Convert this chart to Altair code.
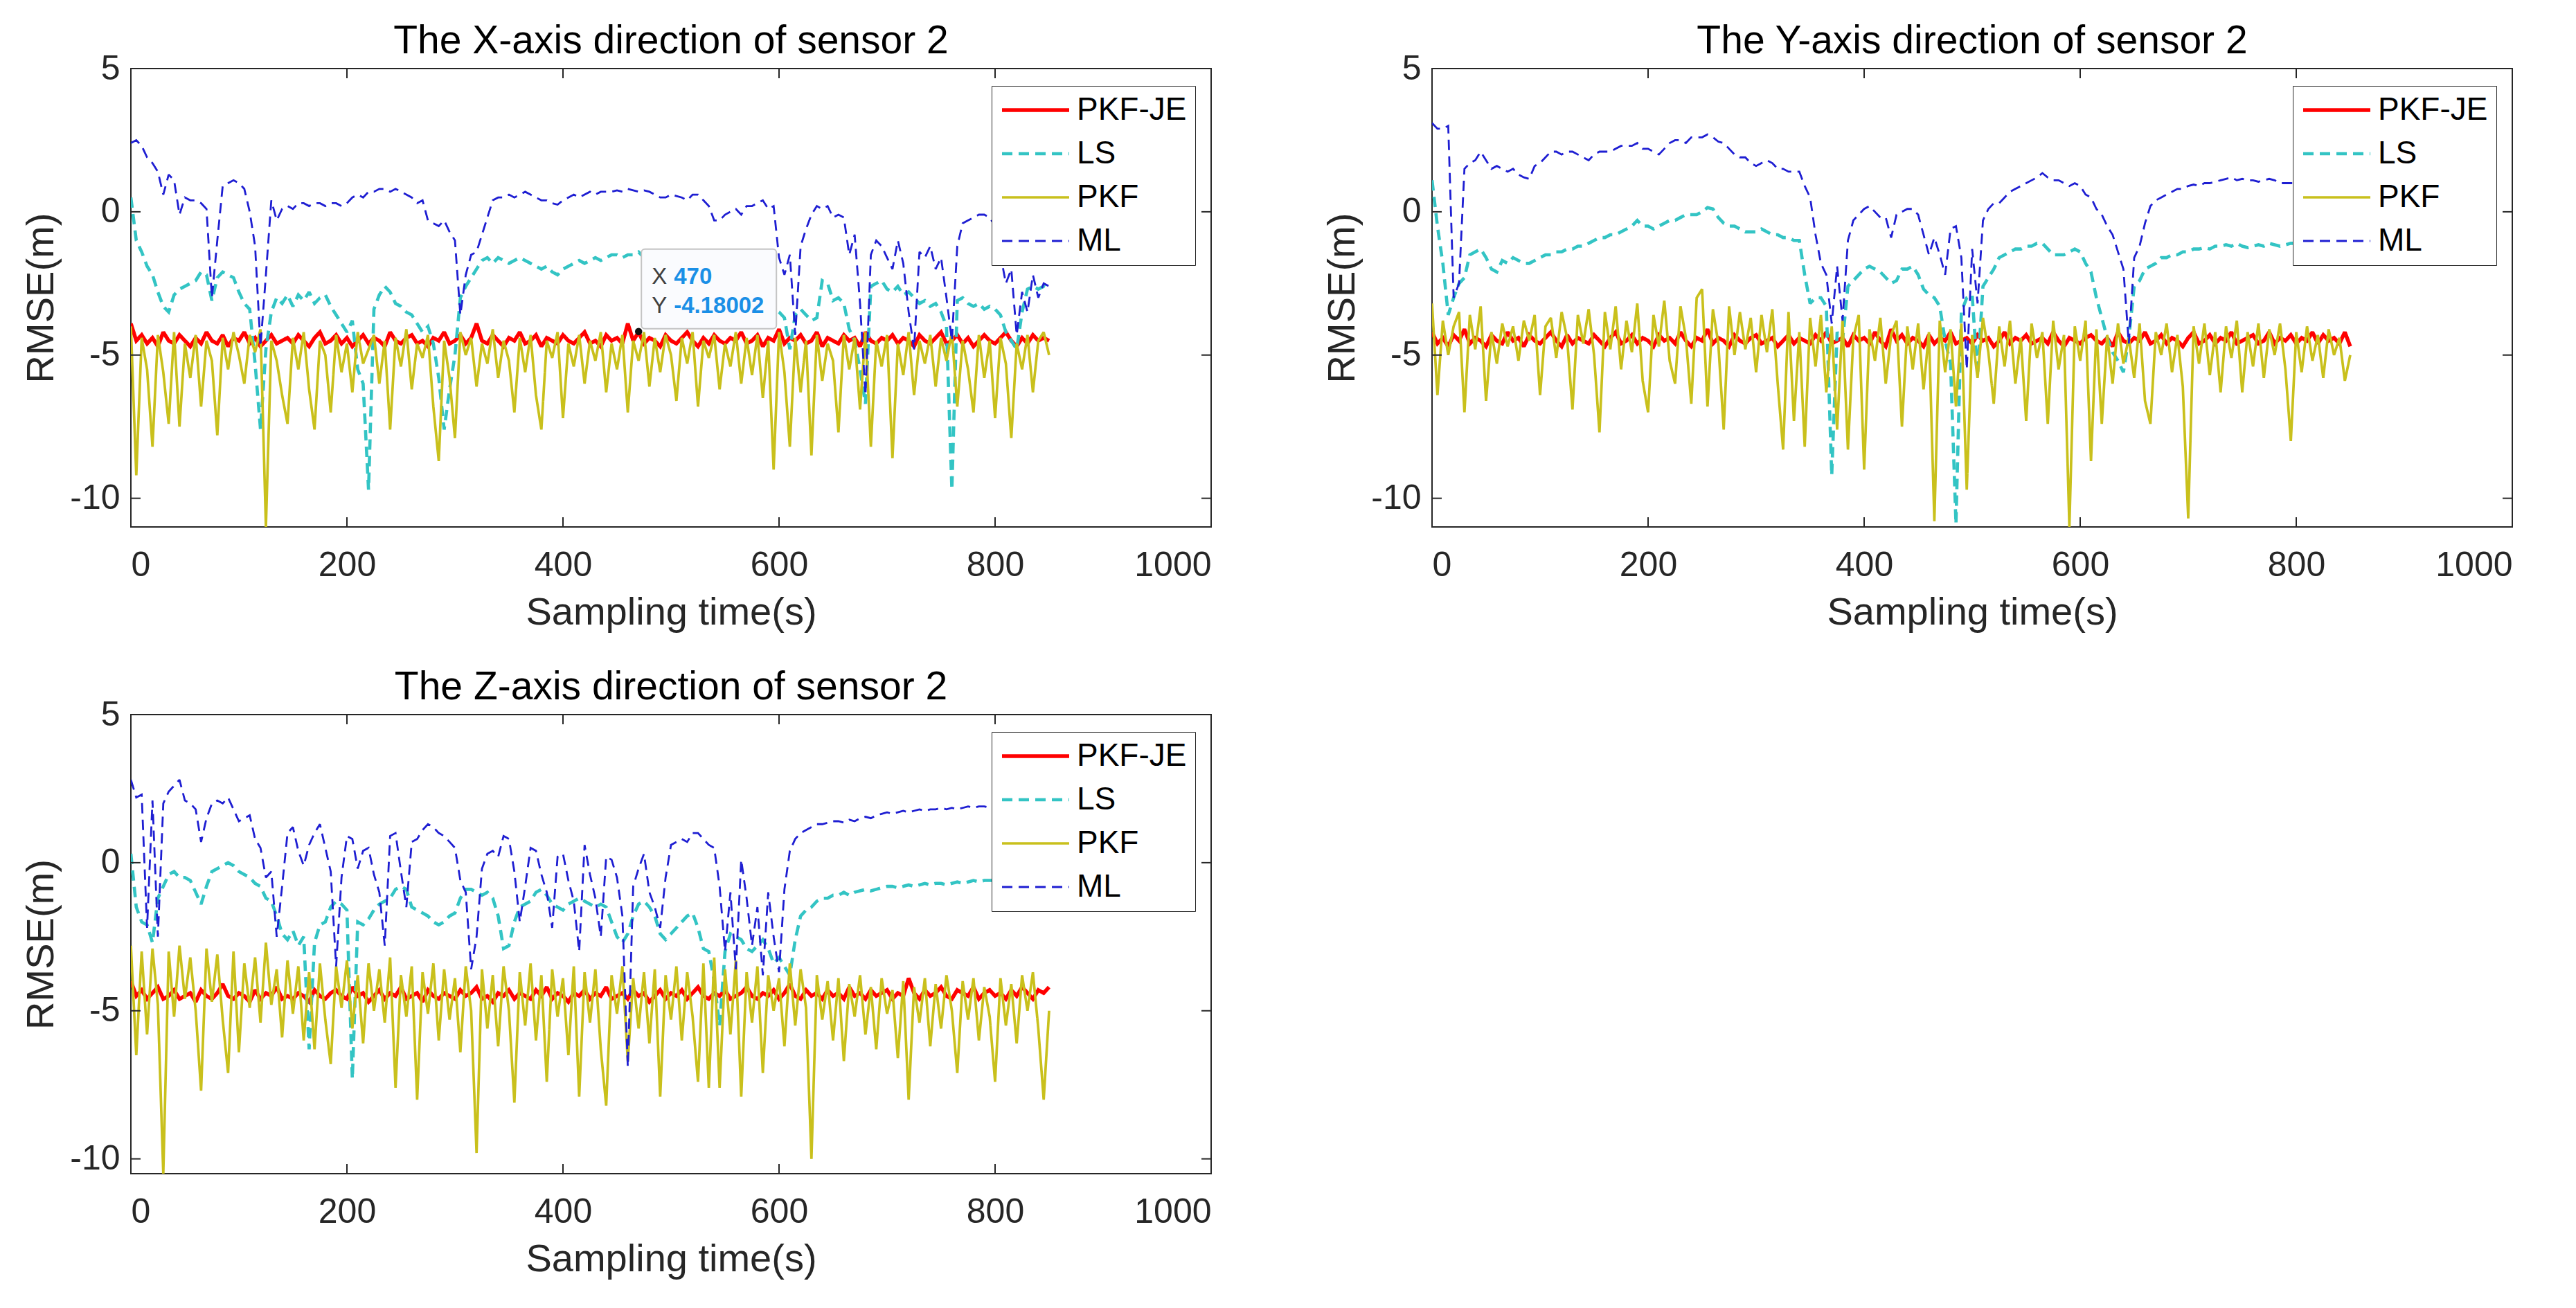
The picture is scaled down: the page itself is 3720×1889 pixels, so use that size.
import altair as alt
import pandas as pd

# ---------------- data (sampled every 5 s, 0..850 s) ----------------
SERIES = ["PKF-JE", "LS", "PKF", "ML"]
COLORS = ["#ff0000", "#33c4c4", "#c9c01c", "#1e1ed2"]
DASHES = [[1, 0], [15, 9], [1, 0], [15, 9]]
WIDTHS = [5.5, 2.8, 2.6, 2.8]
STEP = 5

X_JE = [-3.9, -4.5, -4.3, -4.6, -4.4, -4.7, -4.2, -4.5, -4.6, -4.3,
        -4.5, -4.7, -4.4, -4.6, -4.2, -4.5, -4.6, -4.3, -4.7, -4.4,
        -4.5, -4.2, -4.6, -4.4, -4.7, -4.5, -4.3, -4.6, -4.5, -4.4,
        -4.6, -4.3, -4.5, -4.7, -4.4, -4.2, -4.6, -4.5, -4.3, -4.6,
        -4.4, -4.7, -4.5, -4.3, -4.6, -4.4, -4.5, -4.7, -4.2, -4.5,
        -4.6, -4.4, -4.3, -4.6, -4.5, -4.7, -4.4, -4.5, -4.2, -4.6,
        -4.5, -4.3, -4.6, -4.4, -3.9, -4.5, -4.6, -4.3, -4.5, -4.7,
        -4.4, -4.5, -4.2, -4.6, -4.5, -4.3, -4.7, -4.4, -4.5, -4.6,
        -4.3, -4.5, -4.6, -4.4, -4.2, -4.6, -4.5, -4.7, -4.3, -4.5,
        -4.4, -4.6, -3.9, -4.5, -4.2, -4.6, -4.4, -4.5, -4.7, -4.3,
        -4.5, -4.6, -4.4, -4.2, -4.5, -4.7, -4.4, -4.6, -4.3, -4.5,
        -4.6, -4.4, -4.5, -4.2, -4.6, -4.5, -4.3, -4.7, -4.4, -4.5,
        -4.1, -4.6, -4.4, -4.5, -4.3, -4.6, -4.5, -4.2, -4.7, -4.4,
        -4.5, -4.6, -4.3, -4.5, -4.4, -4.7, -4.2, -4.5, -4.6, -4.4,
        -4.5, -4.3, -4.6, -4.4, -4.5, -4.7, -4.3, -4.5, -4.6, -4.4,
        -4.2, -4.6, -4.5, -4.3, -4.6, -4.4, -4.7, -4.5, -4.3, -4.5,
        -4.6, -4.4, -4.2, -4.5, -4.7, -4.4, -4.6, -4.3, -4.5, -4.4,
        -4.5]
X_LS = [0.5, -1.0, -1.4, -1.9, -2.2, -2.8, -3.3, -3.5, -2.9, -2.7,
        -2.6, -2.5, -2.4, -2.1, -2.2, -3.1, -2.3, -2.1, -2.2, -2.3,
        -2.8, -3.2, -3.4, -5.3, -7.6, -4.8, -3.5, -3.0, -3.2, -2.9,
        -3.3, -2.9, -3.1, -2.8, -3.2, -3.0, -2.9, -3.3, -3.6, -3.9,
        -4.2, -3.8, -5.5, -6.0, -9.7, -3.4, -2.9, -2.6, -2.8, -3.2,
        -3.3, -3.5, -3.6, -3.9, -4.2, -4.0, -4.6, -5.8, -7.6, -6.2,
        -5.0, -3.0, -2.6, -2.3, -2.0, -1.7, -1.6, -1.8, -1.6, -1.7,
        -1.8, -1.7, -1.6, -1.7, -1.8, -1.9, -2.0, -1.9, -2.1, -2.2,
        -2.0, -1.9, -1.8, -1.7, -1.8, -1.7, -1.6, -1.7, -1.6, -1.5,
        -1.5, -1.6, -1.5, -1.5, -1.4, -1.6, -1.7, -2.2, -2.6, -2.8,
        -1.6, -1.5, -1.6, -1.7, -1.8, -1.7, -1.8, -2.0, -2.2, -2.3,
        -2.2, -2.4, -2.5, -2.6, -2.8, -2.9, -3.0, -3.2, -3.3, -3.4,
        -3.5, -3.7, -4.8, -3.6, -3.4, -3.6, -3.8, -3.7, -2.4, -2.5,
        -3.1, -3.0, -3.2, -4.1, -4.5, -5.5, -6.7, -2.6, -2.5, -2.4,
        -2.7, -2.8, -2.6, -2.9, -2.8, -3.0, -3.2, -3.1, -3.3, -3.2,
        -3.5, -4.0, -9.7, -3.1, -3.0, -3.2, -3.3, -3.2, -3.4, -3.3,
        -3.4, -3.6, -4.2, -4.5, -4.8, -3.5, -2.7, -2.6, -2.7, -2.6,
        -2.7]
X_PKF = [-4.0, -9.2, -4.4, -5.5, -8.2, -4.3, -5.6, -7.4, -4.2, -7.5,
         -4.6, -5.8, -4.3, -6.8, -4.5, -5.2, -7.8, -4.4, -5.5, -4.2,
         -5.0, -6.0, -4.3, -4.9, -4.1, -11.0, -4.5, -5.2, -6.4, -7.4,
         -4.4, -5.5, -4.2, -6.2, -7.6, -4.5, -5.0, -7.0, -4.3, -5.6,
         -4.6, -6.3, -4.2, -5.3, -4.8, -4.3, -6.0, -4.5, -7.6, -4.4,
         -5.4, -4.1, -6.2, -4.6, -5.1, -4.3, -6.8, -8.7, -4.5, -5.8,
         -7.9, -4.2, -5.0, -4.4, -6.1, -4.6, -5.3, -4.1, -5.8, -4.5,
         -5.2, -7.0, -4.4, -5.6, -4.3, -6.4, -7.6, -4.5, -5.1, -4.2,
         -7.2, -4.6, -5.4, -4.3, -6.0, -4.5, -5.2, -4.2, -6.3, -4.6,
         -5.5, -4.3, -7.0, -4.5, -5.2, -4.2, -6.1, -4.4, -5.6, -4.3,
         -5.0, -6.6, -4.4, -5.3, -4.2, -6.8, -4.5, -5.1, -4.3, -6.2,
         -4.6, -5.4, -4.2, -6.0, -4.4, -5.7, -4.3, -6.5, -4.5, -9.0,
         -4.2, -5.6, -8.2, -4.4, -6.3, -4.5, -8.5, -4.3, -5.9, -4.6,
         -5.2, -7.7, -4.3, -5.5, -4.4, -6.9, -4.2, -8.2, -4.5, -5.4,
         -4.3, -8.6, -4.6, -5.7, -4.2, -6.4, -4.5, -5.3, -4.3, -6.1,
         -4.4, -5.2, -4.2, -6.8, -4.5, -5.5, -7.0, -4.3, -5.8, -4.5,
         -7.2, -4.4, -5.3, -7.9, -4.6, -5.5, -4.3, -6.3, -4.5, -4.2,
         -5.0]
X_ML = [2.4, 2.5, 2.3, 1.9, 1.7, 1.4, 0.6, 1.3, 1.1, -0.1,
        0.5, 0.4, 0.4, 0.3, 0.1, -3.0, -1.0, 0.9, 1.0, 1.1,
        1.0, 0.8, 0.0, -1.2, -4.7, -2.2, 0.4, -0.3, 0.1, 0.2,
        0.1, 0.3, 0.3, 0.2, 0.3, 0.3, 0.2, 0.3, 0.3, 0.2,
        0.3, 0.5, 0.6, 0.5, 0.7, 0.7, 0.8, 0.8, 0.7, 0.8,
        0.7, 0.6, 0.5, 0.3, 0.4, -0.3, -0.4, -0.5, -0.3, -0.7,
        -1.0, -3.6, -2.2, -1.5, -1.4, -0.8, -0.2, 0.4, 0.5, 0.5,
        0.6, 0.5, 0.6, 0.7, 0.6, 0.5, 0.4, 0.4, 0.3, 0.25,
        0.4, 0.5, 0.6, 0.5, 0.6, 0.7, 0.6, 0.7, 0.7, 0.7,
        0.75, 0.7, 0.8, 0.75, 0.7, 0.75, 0.7, 0.6, 0.5, 0.5,
        0.6, 0.55, 0.5, 0.4, 0.6, 0.6, 0.4, 0.2, -0.3, -0.3,
        -0.1, 0.0, 0.1, -0.1, 0.2, 0.2, 0.3, 0.4, 0.1, 0.2,
        -1.6, -2.2, -1.5, -4.3, -1.2, -0.6, -0.1, 0.2, 0.1, 0.2,
        -0.2, -0.1, -0.2, -1.5, -0.8, -3.2, -6.4, -1.5, -1.0, -1.2,
        -1.6, -2.0, -1.0, -1.8, -3.5, -4.8, -1.4, -1.6, -1.2, -2.0,
        -1.6, -3.0, -4.5, -1.2, -0.4, -0.3, -0.2, -0.1, -0.1, -0.2,
        -0.5, -1.5, -2.5, -2.0, -4.3, -2.8, -3.5, -2.2, -3.0, -2.5,
        -2.6]

Y_JE = [-4.2, -4.6, -4.4, -4.7, -4.3, -4.5, -4.1, -4.6, -4.4, -4.5,
        -4.7, -4.3, -4.5, -4.6, -4.2, -4.5, -4.4, -4.7, -4.3, -4.5,
        -4.6, -4.4, -4.2, -4.5, -4.7, -4.3, -4.6, -4.4, -4.5, -4.6,
        -4.3, -4.5, -4.7, -4.4, -4.2, -4.6, -4.5, -4.3, -4.6, -4.4,
        -4.5, -4.7, -4.3, -4.5, -4.4, -4.6, -4.2, -4.5, -4.7, -4.4,
        -4.5, -4.1, -4.6, -4.4, -4.5, -4.7, -4.3, -4.5, -4.6, -4.4,
        -4.3, -4.6, -4.5, -4.4, -4.7, -4.5, -4.3, -4.6, -4.4, -4.5,
        -4.6, -4.3, -4.5, -4.2, -4.6, -4.5, -4.4, -4.7, -4.3, -4.5,
        -4.4, -4.6, -4.2, -4.5, -4.7, -4.1, -4.5, -4.3, -4.6, -4.4,
        -4.5, -4.7, -4.3, -4.6, -4.4, -4.5, -4.2, -4.6, -4.5, -4.4,
        -4.6, -4.3, -4.5, -4.4, -4.7, -4.5, -4.2, -4.6, -4.4, -4.5,
        -4.3, -4.6, -4.5, -4.4, -4.6, -4.2, -4.5, -4.7, -4.4, -4.5,
        -4.6, -4.4, -4.3, -4.5, -4.6, -4.4, -4.7, -4.2, -4.5, -4.6,
        -4.4, -4.5, -4.2, -4.6, -4.5, -4.3, -4.6, -4.4, -4.5, -4.7,
        -4.4, -4.2, -4.6, -4.5, -4.3, -4.6, -4.4, -4.5, -4.2, -4.6,
        -4.5, -4.4, -4.3, -4.6, -4.5, -4.2, -4.6, -4.4, -4.5, -4.3,
        -4.6, -4.4, -4.5, -4.2, -4.6, -4.3, -4.5, -4.4, -4.6, -4.2,
        -4.7]
Y_LS = [1.1, -0.5, -1.8, -3.6, -3.0, -2.5, -2.3, -1.5, -1.4, -1.3,
        -1.6, -2.0, -2.1, -1.7, -1.8, -1.6, -1.7, -1.8, -1.8, -1.7,
        -1.6, -1.5, -1.5, -1.4, -1.4, -1.3, -1.3, -1.2, -1.2, -1.1,
        -1.0, -0.9, -0.9, -0.8, -0.8, -0.7, -0.6, -0.5, -0.3, -0.5,
        -0.5, -0.6, -0.5, -0.4, -0.3, -0.3, -0.2, -0.1, -0.1, -0.1,
        0.0, 0.15, 0.1, -0.2, -0.4, -0.5, -0.5, -0.6, -0.7, -0.7,
        -0.7, -0.6, -0.7, -0.8, -0.8, -0.9, -0.9, -1.0, -1.0, -2.2,
        -3.2, -3.0, -3.0, -3.3, -9.2, -4.2, -4.5, -2.6, -2.4, -2.2,
        -2.0, -1.9, -2.0, -2.1, -2.3, -2.5, -2.4, -2.0, -2.0, -1.9,
        -2.2, -2.7, -2.9, -3.0, -3.3, -4.5, -5.3, -10.9, -3.5, -3.0,
        -2.9, -5.7, -2.6, -2.3, -2.0, -1.6, -1.5, -1.4, -1.3, -1.3,
        -1.2, -1.2, -1.1, -1.1, -1.3, -1.5, -1.5, -1.5, -1.4, -1.3,
        -1.4, -1.8, -2.1, -3.0, -3.7, -4.4, -4.9, -5.2, -5.6, -4.4,
        -2.6, -2.4, -2.0, -1.9, -1.8, -1.6, -1.6, -1.5, -1.5, -1.4,
        -1.4, -1.3, -1.3, -1.25, -1.3, -1.2, -1.2, -1.15, -1.2, -1.1,
        -1.2, -1.25, -1.2, -1.15, -1.2, -1.1, -1.15, -1.2, -1.15, -1.1,
        -1.1, -1.1, -1.05, -1.1, -1.1, -1.05, -1.0, -1.05, -1.0, -1.0,
        -1.0]
Y_PKF = [-3.2, -6.4, -3.8, -5.0, -4.0, -3.5, -7.0, -3.6, -4.8, -3.3,
         -6.6, -4.2, -5.3, -3.9, -4.7, -4.0, -5.2, -3.8, -4.5, -3.6,
         -6.4, -4.0, -3.7, -5.1, -3.5, -4.4, -6.9, -3.6, -4.6, -3.4,
         -5.0, -7.7, -3.5, -4.8, -3.3, -5.5, -3.8, -4.9, -3.2, -5.9,
         -7.0, -3.6, -4.7, -3.1, -5.2, -6.0, -3.3, -4.4, -6.7, -3.0,
         -2.7, -6.8, -3.4, -4.6, -7.6, -3.3, -5.0, -3.5, -4.8, -3.7,
         -5.6, -3.6, -4.9, -3.4, -6.0, -8.3, -3.5, -7.3, -4.2, -8.2,
         -3.7, -5.4, -3.6, -6.3, -4.0, -7.6, -3.8, -8.3, -4.4, -3.6,
         -9.0, -4.1, -5.2, -3.7, -6.0, -4.3, -3.8, -7.5, -4.0, -5.5,
         -3.9, -6.2, -4.2, -10.8, -3.8, -5.6, -4.1, -6.8, -3.9, -9.7,
         -4.3, -5.8, -3.7, -4.9, -6.7, -4.0, -5.4, -3.8, -6.0, -4.4,
         -7.3, -3.9, -5.1, -4.2, -7.4, -3.8, -5.5, -4.3, -11.0, -4.0,
         -5.2, -3.8, -8.7, -4.1, -7.4, -4.3, -6.0, -3.9, -5.3, -4.4,
         -5.8, -3.9, -6.6, -7.4, -4.2, -5.0, -3.9, -5.6, -4.3, -6.1,
         -10.7, -4.0, -5.3, -3.9, -5.7, -4.2, -6.3, -4.0, -5.1, -3.8,
         -6.3, -4.2, -5.4, -3.9, -5.8, -4.1, -5.0, -3.9, -5.5, -8.0,
         -4.2, -5.6, -4.0, -5.2, -4.3, -5.8, -4.1, -5.0, -4.4, -5.9,
         -5.0]
Y_ML = [3.1, 2.9, 2.9, 3.0, -3.0, -2.5, 1.5, 1.7, 1.8, 2.1,
        1.8, 1.5, 1.6, 1.5, 1.4, 1.5, 1.3, 1.2, 1.15, 1.6,
        1.7, 1.9, 2.1, 2.1, 2.0, 2.1, 2.1, 2.0, 1.9, 1.8,
        2.0, 2.1, 2.1, 2.1, 2.2, 2.3, 2.3, 2.3, 2.4, 2.2,
        2.2, 2.1, 2.0, 2.2, 2.4, 2.5, 2.5, 2.4, 2.6, 2.6,
        2.6, 2.7, 2.6, 2.45, 2.4, 2.2, 2.0, 1.9, 1.9, 1.7,
        1.6, 1.7, 1.8, 1.7, 1.5, 1.5, 1.4, 1.4, 1.4, 0.9,
        0.5, -0.8, -1.8, -2.2, -3.9, -1.9, -3.8, -1.0, -0.3, -0.1,
        0.1, 0.2, 0.0, -0.2, -0.2, -0.9, -0.1, 0.0, 0.1, 0.1,
        -0.1, -0.8, -1.5, -0.9, -1.5, -2.2, -0.6, -0.5, -1.6, -5.5,
        -1.3, -3.2, -0.3, 0.1, 0.3, 0.3, 0.5, 0.7, 0.8, 0.9,
        1.0, 1.1, 1.2, 1.35, 1.2, 1.1, 1.1, 1.0, 0.9, 1.0,
        0.9, 0.6, 0.5, 0.1, -0.1, -0.5, -0.8, -1.4, -2.0, -4.6,
        -1.6, -1.2, -0.4, 0.2, 0.4, 0.5, 0.6, 0.7, 0.8, 0.8,
        0.9, 0.95, 0.9, 1.0, 1.0, 1.05, 1.1, 1.15, 1.2, 1.1,
        1.15, 1.1, 1.1, 1.05, 1.1, 1.15, 1.1, 1.0, 1.0, 1.0,
        1.0, 1.05, 1.1, 1.1, 1.0, 1.05, 1.1, 1.1, 1.05, 1.1,
        1.1]

Z_JE = [-4.0, -4.5, -4.3, -4.6, -4.4, -4.2, -4.6, -4.5, -4.3, -4.6,
        -4.5, -4.4, -4.7, -4.3, -4.5, -4.6, -4.4, -4.1, -4.5, -4.6,
        -4.4, -4.5, -4.7, -4.3, -4.6, -4.4, -4.5, -4.2, -4.6, -4.5,
        -4.6, -4.4, -4.5, -4.7, -4.3, -4.5, -4.6, -4.4, -4.3, -4.5,
        -4.6, -4.2, -4.5, -4.4, -4.7, -4.5, -4.3, -4.6, -4.4, -4.5,
        -4.2, -4.6, -4.5, -4.4, -4.7, -4.3, -4.5, -4.6, -4.4, -4.5,
        -4.6, -4.3, -4.5, -4.4, -4.2, -4.6, -4.5, -4.7, -4.4, -4.5,
        -4.3, -4.6, -4.4, -4.5, -4.6, -4.3, -4.5, -4.2, -4.6, -4.4,
        -4.5, -4.7, -4.4, -4.5, -4.3, -4.6, -4.4, -4.5, -4.2, -4.6,
        -4.5, -4.4, -4.6, -4.3, -4.5, -4.4, -4.7, -4.5, -4.3, -4.6,
        -4.4, -4.5, -4.3, -4.6, -4.4, -4.2, -4.5, -4.6, -4.4, -4.5,
        -4.3, -4.6, -4.5, -4.4, -4.2, -4.5, -4.6, -4.4, -4.5, -4.3,
        -4.6, -4.4, -4.1, -4.5, -4.6, -4.3, -4.5, -4.4, -4.6, -4.3,
        -4.5, -4.4, -4.6, -4.2, -4.5, -4.4, -4.6, -4.3, -4.5, -4.4,
        -4.3, -4.6, -4.4, -4.5, -3.9, -4.4, -4.6, -4.3, -4.5, -4.4,
        -4.2, -4.5, -4.6, -4.3, -4.4, -4.5, -4.2, -4.6, -4.4, -4.3,
        -4.5, -4.4, -4.6, -4.3, -4.5, -4.2, -4.4, -4.6, -4.3, -4.4,
        -4.2]
Z_LS = [0.3, -1.5, -2.0, -2.1, -2.7, -1.2, -0.8, -0.4, -0.3, -0.5,
        -0.5, -0.6, -1.0, -1.4, -0.8, -0.3, -0.2, -0.1, 0.0, -0.1,
        -0.3, -0.4, -0.5, -0.7, -0.8, -1.2, -1.3, -1.8, -2.4, -2.6,
        -2.3, -2.8, -2.5, -6.3, -2.7, -2.1, -2.0, -1.5, -1.3, -1.4,
        -1.6, -7.3, -2.0, -2.1, -1.9, -1.6, -1.4, -1.3, -1.2, -0.9,
        -0.8, -0.9, -1.5, -1.6, -1.7, -1.8, -2.0, -2.1, -2.0, -1.8,
        -1.7, -1.2, -0.9, -0.9, -1.0, -1.1, -1.0, -1.2, -1.8, -2.9,
        -2.8, -2.0, -1.5, -1.4, -1.3, -1.0, -0.9, -1.1, -1.4, -1.5,
        -1.6, -1.4, -1.3, -1.2, -1.3, -1.4, -1.5, -1.4, -1.5, -2.0,
        -2.5, -2.7, -2.4, -1.8, -1.4, -1.3, -1.5, -1.8, -2.4, -2.6,
        -2.4, -2.2, -2.0, -1.8, -1.7, -2.2, -2.9, -3.0, -4.0, -5.5,
        -3.0, -2.4, -2.5, -2.6, -2.9, -3.0, -2.8, -2.6, -2.9, -3.4,
        -3.2, -3.5, -3.8, -2.6, -1.8, -1.6, -1.5, -1.3, -1.2, -1.2,
        -1.1, -1.1, -1.0, -1.1, -1.0, -0.95, -0.9, -0.95, -0.9, -0.85,
        -0.8, -0.8, -0.85, -0.8, -0.75, -0.8, -0.75, -0.7, -0.75, -0.7,
        -0.7, -0.75, -0.7, -0.65, -0.7, -0.65, -0.6, -0.65, -0.6, -0.6,
        -0.6, -0.55, -0.6, -0.55, -0.55, -0.5, -0.55, -0.5, -0.5, -0.5,
        -0.5]
Z_PKF = [-2.8, -6.5, -3.0, -5.8, -2.9, -4.8, -10.5, -3.0, -5.2, -2.8,
         -4.6, -3.2, -5.0, -7.7, -2.9, -4.7, -3.1, -5.3, -7.1, -3.0,
         -6.4, -3.4, -4.9, -3.2, -5.4, -2.7, -4.8, -3.6, -5.9, -3.3,
         -5.1, -3.5, -6.0, -3.7, -6.3, -3.4, -5.3, -6.8, -3.5, -4.9,
         -3.3, -5.6, -3.8, -6.1, -3.4, -5.0, -3.6, -5.4, -3.2, -7.6,
         -3.8, -5.2, -3.5, -8.0, -3.7, -5.1, -3.4, -6.0, -3.6, -5.3,
         -3.9, -6.4, -3.5, -5.0, -9.8, -3.6, -5.6, -3.8, -6.2, -3.5,
         -5.0, -8.1, -3.7, -5.5, -3.4, -6.0, -3.8, -7.4, -3.6, -5.2,
         -3.9, -6.5, -3.5, -7.9, -3.7, -5.4, -3.6, -6.3, -8.2, -3.8,
         -5.1, -3.5, -6.7, -3.9, -5.6, -3.7, -6.1, -3.6, -7.9, -3.8,
         -5.3, -3.5, -6.0, -3.7, -5.2, -7.4, -3.4, -7.6, -3.2, -7.6,
         -3.6, -5.8, -3.3, -7.9, -3.7, -5.4, -3.5, -7.1, -3.8, -5.0,
         -3.9, -6.2, -3.4, -5.5, -3.6, -4.9, -10.0, -3.8, -5.3, -4.0,
         -6.0, -3.9, -6.7, -4.1, -5.2, -3.8, -5.8, -4.2, -6.3, -3.9,
         -5.1, -4.3, -6.6, -4.0, -8.0, -4.2, -5.4, -3.9, -6.2, -4.1,
         -5.6, -3.8, -5.0, -7.1, -4.0, -5.3, -3.9, -6.0, -4.2, -5.2,
         -7.4, -3.9, -5.5, -4.1, -6.1, -3.8, -5.0, -3.7, -5.6, -8.0,
         -5.0]
Z_ML = [2.8, 2.2, 2.3, -2.2, 2.1, -2.5, 2.0, 2.4, 2.6, 2.8,
        2.1, 2.0, 1.8, 0.7, 1.5, 2.0, 2.1, 2.0, 2.2, 1.8,
        1.4, 1.5, 1.6, 0.8, 0.5, -0.5, -0.3, -2.5, -0.8, 1.0,
        1.2, 0.4, -0.1, 0.6, 1.0, 1.3, 0.5, -0.3, -3.5, -0.5,
        0.9, 0.8, -0.2, 0.4, 0.5, -0.4, -1.0, -2.8, 0.9, 1.0,
        -0.3, -1.5, 0.7, 0.8, 1.1, 1.3, 1.2, 1.0, 0.9, 0.7,
        0.5, -0.6, -1.0, -3.6, -2.5, -0.2, 0.3, 0.4, 0.2, 0.9,
        0.8, -0.3, -2.0, -0.8, 0.5, 0.4, -0.4, -1.0, -2.2, 0.2,
        0.3, -0.6, -1.3, -3.0, 0.6, -0.4, -1.2, -2.5, 0.2, 0.1,
        -0.5, -1.8, -6.9, -0.8, -0.2, 0.3, -1.0, -1.5, -2.2, -0.5,
        0.6, 0.7, 0.8, 0.7, 1.0, 1.0, 0.8, 0.6, 0.5, -0.8,
        -3.0, -1.0, -3.6, 0.1, -1.2, -2.8, -1.5, -3.8, -1.0, -2.5,
        -3.7, -0.9, 0.4, 0.8, 1.0, 1.1, 1.2, 1.3, 1.3, 1.35,
        1.4, 1.4, 1.35, 1.45, 1.4, 1.5, 1.55, 1.5, 1.6, 1.65,
        1.7, 1.65, 1.7, 1.75, 1.7, 1.75, 1.8, 1.75, 1.8, 1.8,
        1.85, 1.8, 1.85, 1.8, 1.85, 1.9, 1.85, 1.9, 1.9, 1.85,
        1.9, 1.9, 1.95, 1.9, 1.95, 1.95, 1.9, 1.95, 2.0, 1.95,
        2.0]

PANELS = [
    ("The X-axis direction of sensor 2", [X_JE, X_LS, X_PKF, X_ML], [-11, 5]),
    ("The Y-axis direction of sensor 2", [Y_JE, Y_LS, Y_PKF, Y_ML], [-11, 5]),
    ("The Z-axis direction of sensor 2", [Z_JE, Z_LS, Z_PKF, Z_ML], [-10.5, 5]),
]
X_TICKS = [0, 200, 400, 600, 800, 1000]
Y_TICKS = [-10, -5, 0, 5]
TIP_X, TIP_Y, TIP_LABEL_Y = 470, -4.18002, "-4.18002"

FONT = "Liberation Sans"
AX = "#262626"
W = 1560


def panel(title, arrays, ydom, height, tip=False):
    rows = []
    for s, arr in zip(SERIES, arrays):
        for i, v in enumerate(arr):
            rows.append({"t": i * STEP, "v": v, "series": s})
    df = pd.DataFrame(rows)

    xenc = alt.X("t:Q", scale=alt.Scale(domain=[0, 1000], nice=False, zero=False),
                 axis=alt.Axis(values=X_TICKS, title="Sampling time(s)", labelPadding=30,
                               titlePadding=16, labelExpr="'' + datum.value"))
    yenc = alt.Y("v:Q", scale=alt.Scale(domain=ydom, nice=False, zero=False),
                 axis=alt.Axis(values=Y_TICKS, title="RMSE(m)", labelPadding=16,
                               titlePadding=12, labelExpr="'' + datum.value"))
    legend = alt.Legend(orient="none", legendX=1243, legendY=25, title=None,
                        symbolType="stroke", symbolSize=9400, clipHeight=46,
                        labelFontSize=46, labelFont=FONT, labelColor="black",
                        labelOffset=8, rowPadding=17, padding=12,
                        strokeColor=AX, fillColor="white", labelLimit=500)
    color = alt.Color("series:N", scale=alt.Scale(domain=SERIES, range=COLORS), legend=legend)
    dash = alt.StrokeDash("series:N", scale=alt.Scale(domain=SERIES, range=DASHES), legend=legend)
    sw = alt.StrokeWidth("series:N", scale=alt.Scale(domain=SERIES, range=WIDTHS), legend=legend)

    layers = []
    for s in SERIES:
        layers.append(
            alt.Chart(df[df["series"] == s]).mark_line(clip=True, strokeJoin="miter", strokeMiterLimit=2)
            .encode(x=xenc, y=yenc, color=color, strokeDash=dash, strokeWidth=sw)
        )

    xt = pd.DataFrame({"t": [200, 400, 600, 800]})
    yt = pd.DataFrame({"v": [y for y in Y_TICKS if ydom[0] < y < ydom[1]]})
    layers += [
        alt.Chart(xt).mark_rule(color=AX, strokeWidth=2).encode(x="t:Q", y=alt.value(height), y2=alt.value(height - 14)),
        alt.Chart(xt).mark_rule(color=AX, strokeWidth=2).encode(x="t:Q", y=alt.value(0), y2=alt.value(14)),
        alt.Chart(yt).mark_rule(color=AX, strokeWidth=2).encode(y="v:Q", x=alt.value(0), x2=alt.value(14)),
        alt.Chart(yt).mark_rule(color=AX, strokeWidth=2).encode(y="v:Q", x=alt.value(W - 14), x2=alt.value(W)),
    ]

    if tip:
        td = pd.DataFrame({"t": [TIP_X], "v": [TIP_Y]})
        base = alt.Chart(td)
        layers += [
            base.mark_rect(fill="#fafbfe", stroke="#c4c4c4", strokeWidth=2, cornerRadius=5,
                           xOffset=4, x2Offset=199, yOffset=-119, y2Offset=-4)
            .encode(x="t:Q", x2="t:Q", y="v:Q", y2="v:Q"),
            base.mark_point(filled=True, color="#111111", size=110, opacity=1).encode(x="t:Q", y="v:Q"),
            base.mark_text(align="left", baseline="middle", dx=19, dy=-79, fontSize=33,
                           font=FONT, color="#404040", text="X").encode(x="t:Q", y="v:Q"),
            base.mark_text(align="left", baseline="middle", dx=51, dy=-79, fontSize=33,
                           font=FONT, fontWeight="bold", color="#1a8fe6", text=str(TIP_X)).encode(x="t:Q", y="v:Q"),
            base.mark_text(align="left", baseline="middle", dx=19, dy=-37, fontSize=33,
                           font=FONT, color="#404040", text="Y").encode(x="t:Q", y="v:Q"),
            base.mark_text(align="left", baseline="middle", dx=51, dy=-37, fontSize=33,
                           font=FONT, fontWeight="bold", color="#1a8fe6", text=TIP_LABEL_Y).encode(x="t:Q", y="v:Q"),
        ]

    return alt.layer(*layers).properties(
        width=W, height=height,
        title=alt.TitleParams(title, fontSize=57, font=FONT, fontWeight="normal", color="black",
                              anchor="middle", frame="group", baseline="alphabetic", offset=-60),
    )


p1 = panel(*PANELS[0], height=662, tip=True)
p2 = panel(*PANELS[1], height=662)
p3 = panel(*PANELS[2], height=663)

chart = alt.concat(p1, p2, p3, columns=2, spacing={"row": 271, "column": 319}, bounds="flush").resolve_scale(
    color="independent", strokeDash="independent", strokeWidth="independent"
).properties(
    padding={"left": 22, "top": 22, "right": 20, "bottom": 20}
).configure(font=FONT).configure_view(
    stroke=AX, strokeWidth=2
).configure_axis(
    grid=False, domain=False, ticks=False, tickSize=0,
    labelFont=FONT, titleFont=FONT, labelFontSize=50, titleFontSize=56,
    labelColor=AX, titleColor=AX, titleFontWeight="normal"
)

chart.save("out.html", embed_options={"renderer": "svg", "actions": False})
